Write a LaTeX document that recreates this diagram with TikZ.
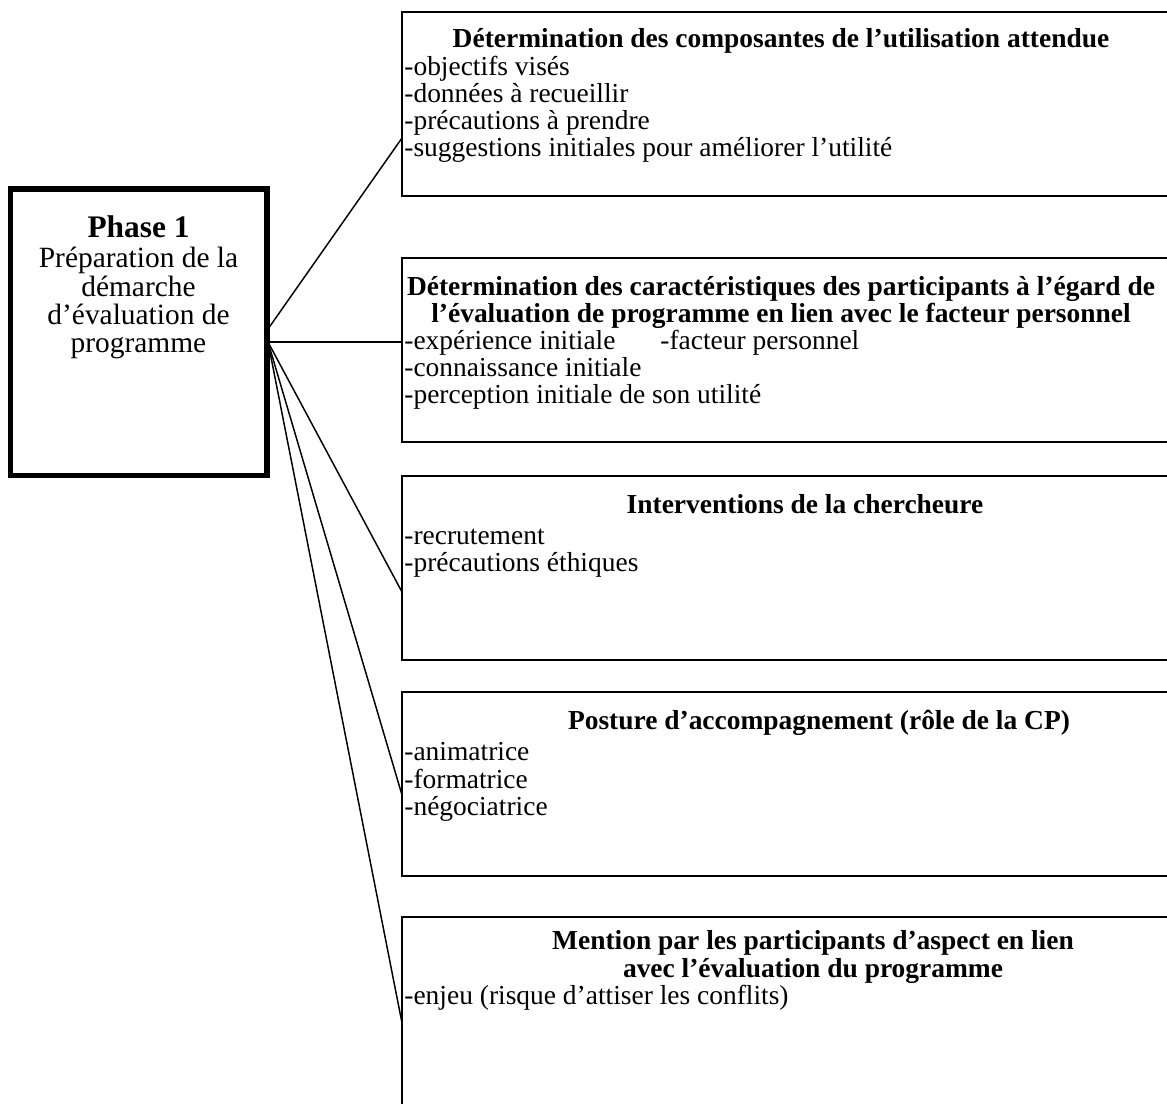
\documentclass[tikz,border=0pt]{standalone}
\usepackage{fontspec}
\setmainfont{Liberation Serif}
\usetikzlibrary{fit}

\begin{document}
\begin{tikzpicture}[x=0.51pt, y=-0.51pt,
  every node/.style={font=\fontsize{14}{14}\selectfont, inner sep=0pt},
  box/.style={draw, line width=1pt, inner sep=0pt},
  phasebox/.style={draw, line width=2.6pt, inner sep=0pt},
  title/.style={anchor=base, font=\bfseries\fontsize{14}{14}\selectfont},
  item/.style={anchor=base west},
  phasetext/.style={anchor=base, font=\fontsize{15}{15}\selectfont},
  link/.style={line width=0.75pt}]
\useasboundingbox (0,0) rectangle (1167,1104);
\clip (0,0) rectangle (1167,1104);
% boxes
\node[phasebox, fit={(10.5,189) (267,475.5)}] (phase) {};
\node[box, fit={(402,12) (1200,196)}] (b1) {};
\node[box, fit={(402,258) (1200,442)}] (b2) {};
\node[box, fit={(402,476) (1200,660)}] (b3) {};
\node[box, fit={(402,692) (1200,876)}] (b4) {};
\node[box, fit={(402,917) (1200,1140)}] (b5) {};
% connectors
\coordinate (hubA) at (268,329);
\coordinate (hubB) at (268,342);
\coordinate (e1) at (402,138);
\coordinate (e2) at (402,342);
\coordinate (e3) at (402,592);
\coordinate (e4) at (402,795);
\coordinate (e5) at (402,1023);
\draw[link] (hubA) -- (e1);
\draw[link] (hubB) -- (e2);
\draw[link] (hubB) -- (e3);
\draw[link] (hubB) -- (e4);
\draw[link] (hubB) -- (e5);
% phase 1
\node[phasetext, font=\bfseries\fontsize{16}{16}\selectfont] (p0) at (138.5,237) {Phase 1};
\node[phasetext] (p1) at (138.5,267) {Préparation de la};
\node[phasetext] (p2) at (138.5,296) {démarche};
\node[phasetext] (p3) at (138.5,324) {d’évaluation de};
\node[phasetext] (p4) at (138.5,352) {programme};
% box 1
\node[title] (t1) at (781,47) {Détermination des composantes de l’utilisation attendue};
\node[item] (i11) at (404,75) {-objectifs visés};
\node[item] (i12) at (404,102) {-données à recueillir};
\node[item] (i13) at (404,129) {-précautions à prendre};
\node[item] (i14) at (404,156) {-suggestions initiales pour améliorer l’utilité};
% box 2
\node[title] (t2a) at (781,295) {Détermination des caractéristiques des participants à l’égard de};
\node[title] (t2b) at (781,322) {l’évaluation de programme en lien avec le facteur personnel};
\node[item] (i21) at (404,349) {-expérience initiale};
\node[item] (i22) at (660,349) {-facteur personnel};
\node[item] (i23) at (404,376) {-connaissance initiale};
\node[item] (i24) at (404,403) {-perception initiale de son utilité};
% box 3
\node[title] (t3) at (805,513) {Interventions de la chercheure};
\node[item] (i31) at (404,544) {-recrutement};
\node[item] (i32) at (404,571) {-précautions éthiques};
% box 4
\node[title] (t4) at (819,729) {Posture d’accompagnement (rôle de la CP)};
\node[item] (i41) at (404,760) {-animatrice};
\node[item] (i42) at (404,788) {-formatrice};
\node[item] (i43) at (404,815) {-négociatrice};
% box 5
\node[title] (t5a) at (813,949) {Mention par les participants d’aspect en lien};
\node[title] (t5b) at (813,977) {avec l’évaluation du programme};
\node[item] (i51) at (404,1004) {-enjeu (risque d’attiser les conflits)};
\end{tikzpicture}
\end{document}
